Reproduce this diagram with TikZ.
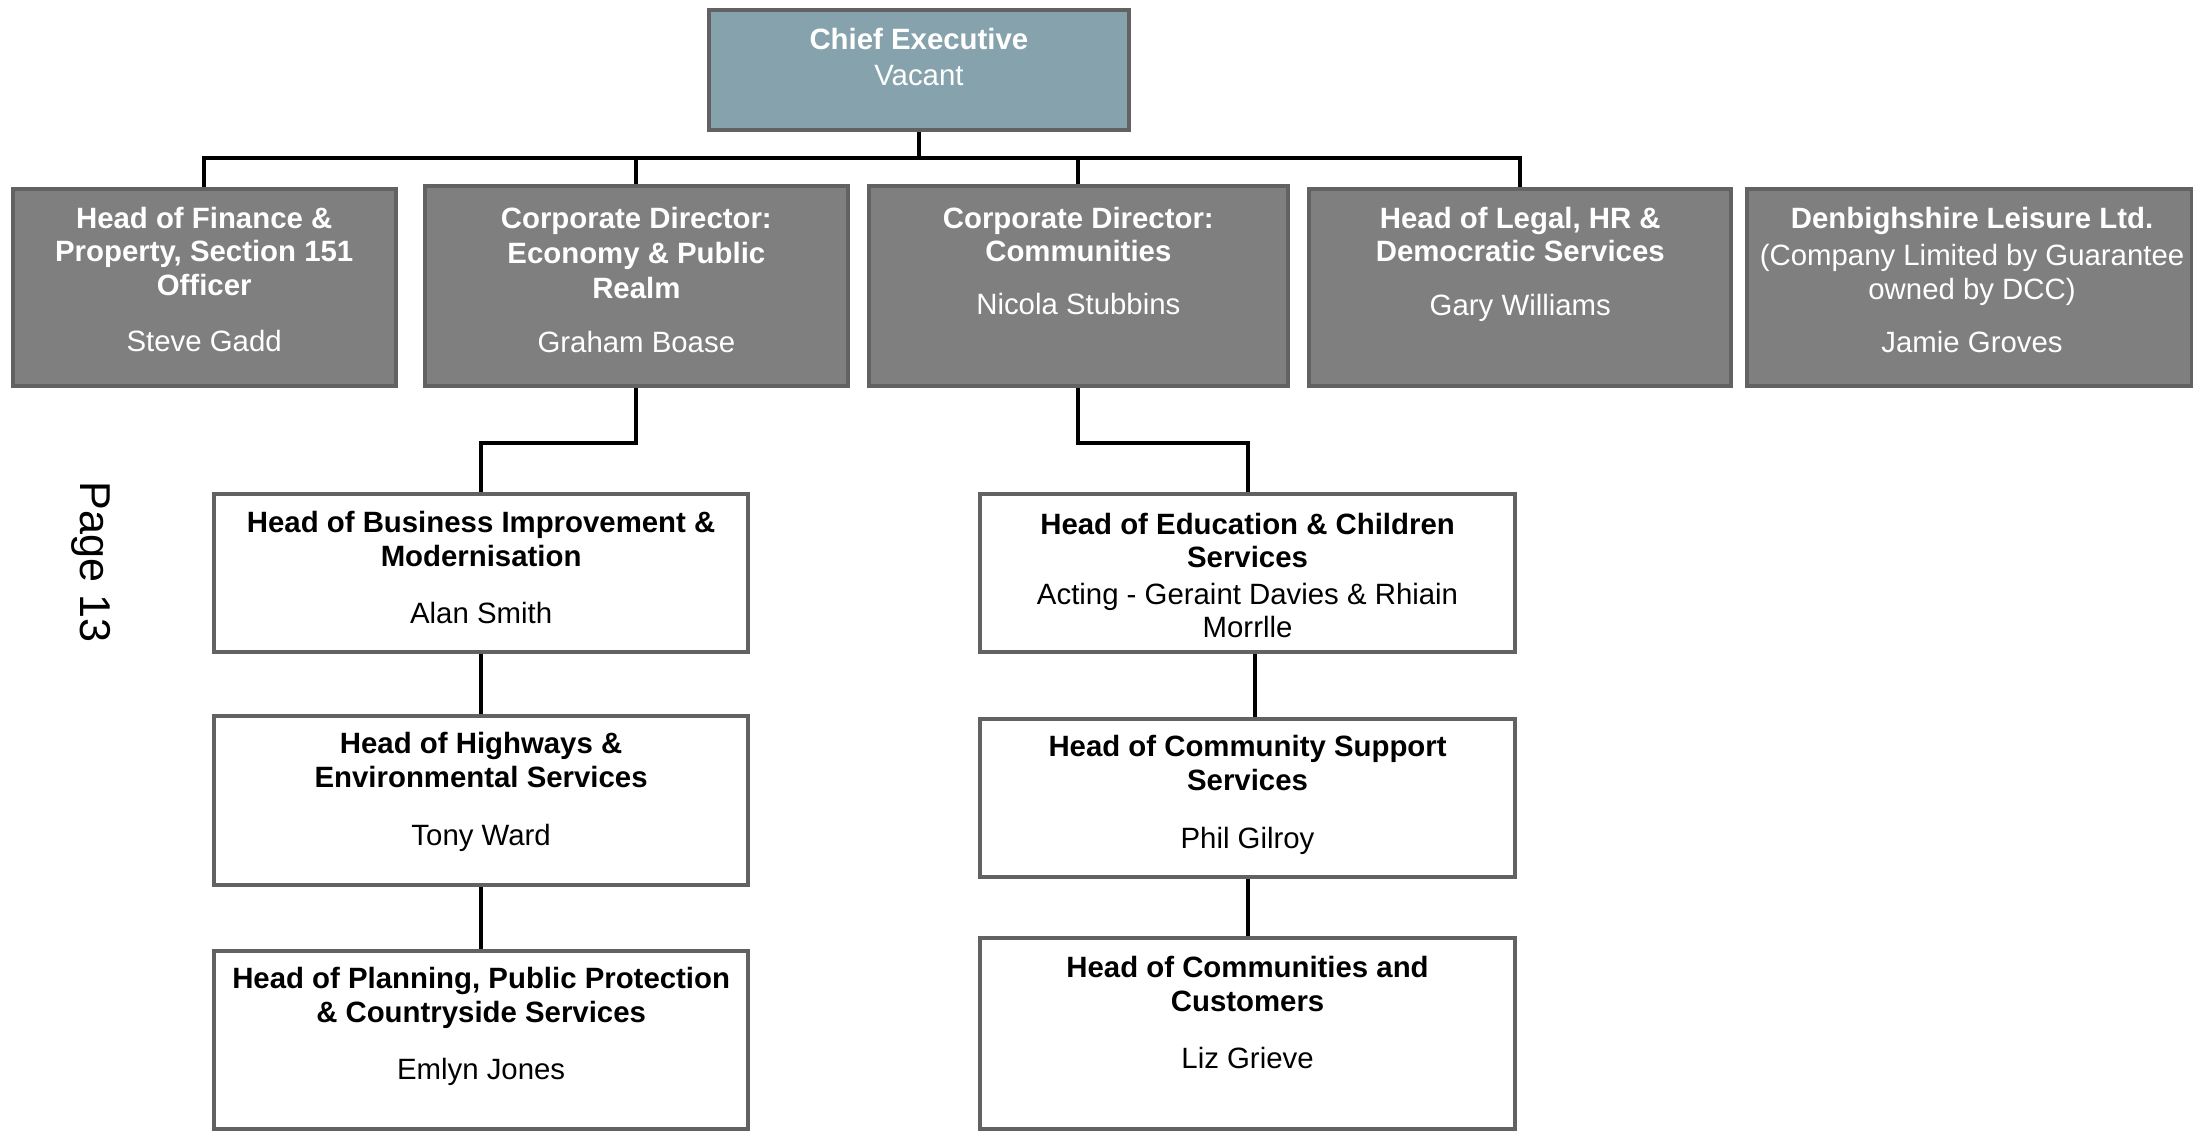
\documentclass[tikz,border=0pt]{standalone}
\usepackage{fontspec}
\setmainfont{Liberation Sans}
\usetikzlibrary{fit,calc}
\definecolor{ceofill}{RGB}{134,163,173}
\definecolor{gfill}{RGB}{127,127,127}
\definecolor{bord}{RGB}{98,98,98}
\newcommand\tf{\fontsize{14.7}{16.8}\selectfont}
\begin{document}
\begin{tikzpicture}[x=0.7pt,y=-0.7pt,
  box/.style={draw=bord, line width=2pt, inner sep=0pt},
  gbox/.style={box, fill=gfill},
  wbox/.style={box, fill=white},
  ceobox/.style={box, fill=ceofill},
  wtxt/.style={text=white, align=center, inner sep=0pt, font=\tf, anchor=north},
  btxt/.style={text=black, align=center, inner sep=0pt, font=\tf, anchor=north},
  conn/.style={draw=black, line width=2pt}]
\useasboundingbox[fill=white] (0,0) rectangle (1568,809);

% boxes
\node[ceobox, fit={(507,7)(807,93)}] (ceo) {};
\node[gbox, fit={(9,135)(283,276)}] (fin) {};
\node[gbox, fit={(304,133)(606,276)}] (eco) {};
\node[gbox, fit={(621,133)(921,276)}] (com) {};
\node[gbox, fit={(936,135)(1238,276)}] (leg) {};
\node[gbox, fit={(1249,135)(1567,276)}] (dlt) {};
\node[wbox, fit={(153,353)(535,466)}] (bim) {};
\node[wbox, fit={(153,512)(535,633)}] (hwy) {};
\node[wbox, fit={(153,680)(535,807)}] (plan) {};
\node[wbox, fit={(701,353)(1083,466)}] (edu) {};
\node[wbox, fit={(701,514)(1083,627)}] (css) {};
\node[wbox, fit={(701,671)(1083,807)}] (cust) {};

% texts
\node[wtxt] (ceot) at ($(ceo.north)+(0,14)$) {\textbf{Chief Executive}\\[1.4pt] Vacant};
\node[wtxt] (fint) at ($(fin.north)+(0,14)$) {\textbf{Head of Finance \&}\\ \textbf{Property, Section 151}\\ \textbf{Officer}\\[11.2pt] Steve Gadd};
\node[wtxt] (ecot) at ($(eco.north)+(0,16)$) {\textbf{Corporate Director:}\\[0.7pt] \textbf{Economy \& Public}\\[0.7pt] \textbf{Realm}\\[10.5pt] Graham Boase};
\node[wtxt] (comt) at ($(com.north)+(0,16)$) {\textbf{Corporate Director:}\\ \textbf{Communities}\\[9.8pt] Nicola Stubbins};
\node[wtxt] (legt) at ($(leg.north)+(0,14)$) {\textbf{Head of Legal, HR \&}\\ \textbf{Democratic Services}\\[10.2pt] Gary Williams};
\node[wtxt] (dltt) at ($(1410,135)+(0,12.6)$) {\textbf{Denbighshire Leisure Ltd.}\\[2.1pt] (Company Limited by Guarantee\\ owned by DCC)\\[9.8pt] Jamie Groves};
\node[btxt] (bimt) at ($(bim.north)+(0,14)$) {\textbf{Head of Business Improvement \&}\\ \textbf{Modernisation}\\[11.9pt] Alan Smith};
\node[btxt] (hwyt) at ($(hwy.north)+(0,13)$) {\textbf{Head of Highways \&}\\ \textbf{Environmental Services}\\[12.4pt] Tony Ward};
\node[btxt] (plant) at ($(plan.north)+(0,13)$) {\textbf{Head of Planning, Public Protection}\\ \textbf{\& Countryside Services}\\[11.9pt] Emlyn Jones};
\node[btxt] (edut) at ($(edu.north)+(0,15)$) {\textbf{Head of Education \& Children}\\ \textbf{Services}\\[1.4pt] Acting - Geraint Davies \& Rhiain\\ Morrlle};
\node[btxt] (csst) at ($(css.north)+(0,13)$) {\textbf{Head of Community Support}\\ \textbf{Services}\\[12.4pt] Phil Gilroy};
\node[btxt] (custt) at ($(cust.north)+(0,14)$) {\textbf{Head of Communities and}\\ \textbf{Customers}\\[11.9pt] Liz Grieve};

\node[rotate=-90, inner sep=0pt, font=\fontsize{21.6}{24}\selectfont] (pg) at (65,402) {Page 13};

% connectors
\coordinate (bus) at (657,113);
\draw[conn] (ceo.south) -- (bus);
\draw[conn] (fin.north) |- (bus) -| (leg.north);
\draw[conn] (eco.north) -- (eco.north |- bus);
\draw[conn] (com.north) -- (com.north |- bus);
\draw[conn] (eco.south) -- ++(0,39) -| (bim.north);
\draw[conn] (com.south) -- ++(0,39) -| (edu.north);
\draw[conn] (bim.south) -- (hwy.north);
\draw[conn] (hwy.south) -- (plan.north);
\draw[conn] ([xshift=3.5pt]edu.south) -- ([xshift=3.5pt]css.north);
\draw[conn] (css.south) -- (cust.north);
\end{tikzpicture}
\end{document}
